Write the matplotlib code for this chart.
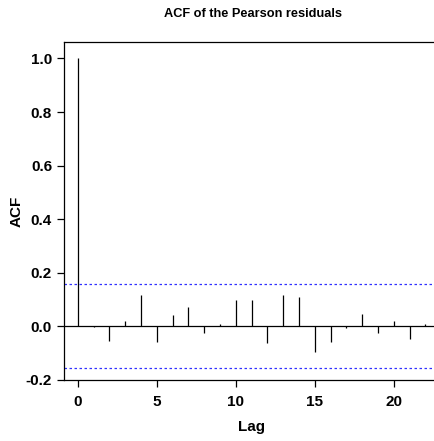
import matplotlib
matplotlib.use("Agg")
import matplotlib.pyplot as plt
import numpy as np

# --- dane ---
lags = np.arange(0, 23)
acf = [1.0, -0.003, -0.056, 0.019, 0.117, -0.060, 0.040, 0.070, -0.025, 0.007,
       0.099, 0.099, -0.062, 0.115, 0.109, -0.095, -0.061, -0.009, 0.044,
       -0.024, 0.020, -0.050, 0.006]
ci = 0.156
title = "ACF of the Pearson residuals"
xticks = [0, 5, 10, 15, 20]
yticks = [-0.2, 0.0, 0.2, 0.4, 0.6, 0.8, 1.0]

plt.rcParams['font.family'] = ['Liberation Sans', 'DejaVu Sans']
plt.rcParams['font.weight'] = 'bold'

fig = plt.figure(figsize=(4.35, 4.41), dpi=100)
ax = fig.add_axes([0.147, 0.138, 0.863, 0.767])

ax.vlines(lags, 0, acf, color='black', linewidth=0.9)
ax.axhline(0, color='black', linewidth=0.9)
for v in (ci, -ci):
    ax.axhline(v, color='#3030ff', linewidth=0.9, linestyle=(0, (2, 2)))

ax.set_xlim(-0.88, 22.88)
ax.set_ylim(-0.202, 1.062)
ax.set_xticks(xticks)
ax.set_yticks(yticks)
ax.set_yticklabels([f"{t:.1f}" for t in yticks])
ax.tick_params(direction='out', length=5, width=0.9, labelsize=11)
ax.tick_params(axis='y', pad=3.6)
ax.tick_params(axis='x', pad=5.5)
ax.spines['right'].set_visible(False)
for s in ax.spines.values():
    s.set_linewidth(0.9)

ax.set_xlabel("Lag", fontsize=11, fontweight='bold')
ax.set_ylabel("ACF", fontsize=11, fontweight='bold')
ax.xaxis.set_label_coords(0.5, -0.118)
ax.yaxis.set_label_coords(-0.1065, 0.5)
fig.text(0.582, 0.968, title, ha='center', va='center', fontsize=9.2, fontweight='bold')

fig.savefig("out.png", dpi=100)
